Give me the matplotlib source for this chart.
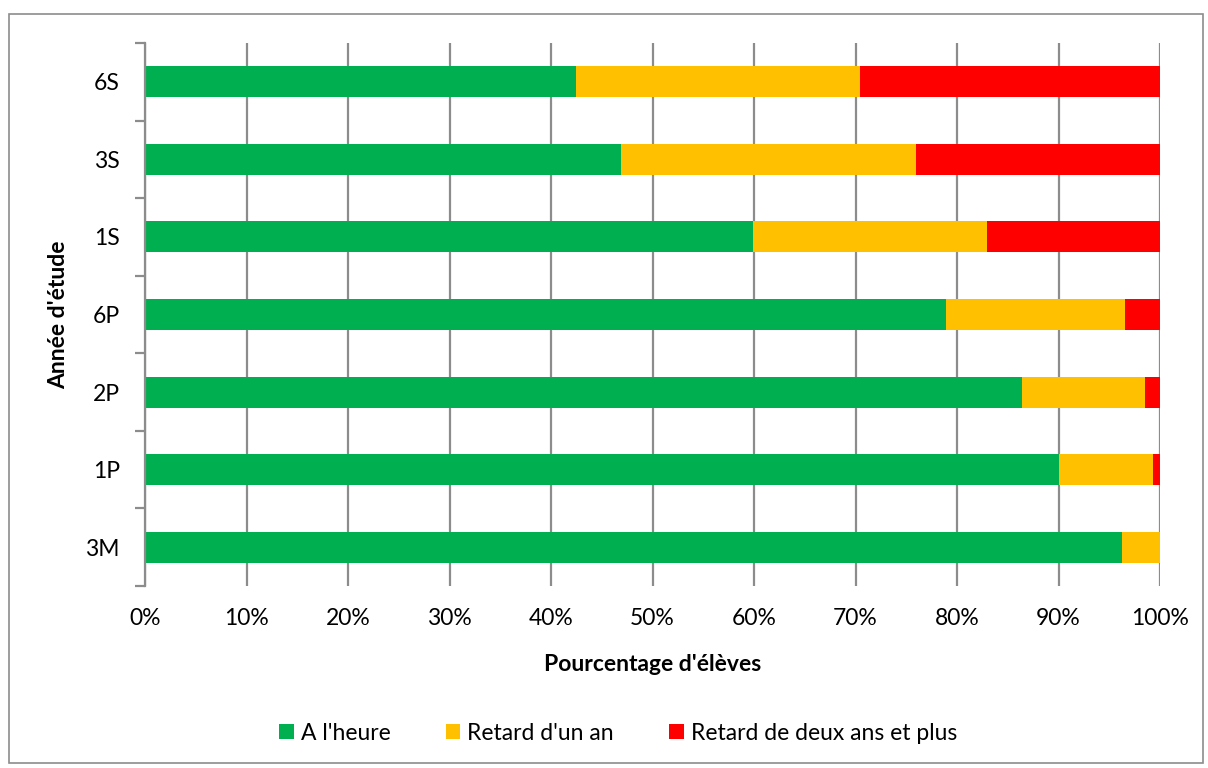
import matplotlib.pyplot as plt
from matplotlib.patches import Rectangle
from matplotlib.ticker import PercentFormatter, FixedLocator, NullFormatter

plt.rcParams['font.family'] = ['Lato', 'DejaVu Sans']

# Années d'étude (bas vers haut) et parts en %
annees = ['3M', '1P', '2P', '6P', '1S', '3S', '6S']
a_l_heure = [96.3, 90.0, 86.4, 78.9, 59.9, 46.9, 42.5]
retard_un_an = [3.7, 9.3, 12.1, 17.7, 23.1, 29.1, 27.9]
retard_deux_ans = [0.0, 0.7, 1.5, 3.4, 17.0, 24.0, 29.6]

series = [
    ("A l'heure", a_l_heure, '#00B050'),
    ("Retard d'un an", retard_un_an, '#FFC000'),
    ('Retard de deux ans et plus', retard_deux_ans, '#FF0000'),
]

fig = plt.figure(figsize=(12.08, 7.68), dpi=100)
ax = fig.add_axes([145 / 1208, 1 - 586 / 768, (1160 - 145) / 1208, (586 - 43) / 768])

# cadre extérieur du graphique
fig.patches.append(Rectangle((9 / 1208, 1 - 763 / 768), 1194 / 1208, 749 / 768,
                             transform=fig.transFigure, fill=False,
                             edgecolor='#8c8c8c', linewidth=1.2))

y = range(len(annees))
left = [0.0] * len(annees)
for label, vals, color in series:
    ax.barh(y, vals, left=left, height=0.4, color=color, label=label, zorder=3)
    left = [l + v for l, v in zip(left, vals)]

ax.set_xlim(0, 100)
ax.set_ylim(-0.5, len(annees) - 0.5)
ax.set_xticks(range(0, 101, 10))
ax.xaxis.set_major_formatter(PercentFormatter(decimals=0))
ax.tick_params(axis='x', length=0, labelsize=16.5, colors='black', pad=16)
ax.grid(axis='x', color='#8c8c8c', linewidth=1.6, zorder=0)

# étiquettes centrées, graduations entre catégories
ax.yaxis.set_major_locator(FixedLocator([i - 0.5 for i in range(len(annees) + 1)]))
ax.yaxis.set_major_formatter(NullFormatter())
ax.yaxis.set_minor_locator(FixedLocator(list(y)))
ax.set_yticklabels(annees, minor=True)
ax.tick_params(axis='y', which='major', length=7, width=1.6, color='#8c8c8c', direction='out')
ax.tick_params(axis='y', which='minor', length=0, labelsize=16.5, pad=18)

for s in ['top', 'right', 'bottom']:
    ax.spines[s].set_visible(False)
ax.spines['left'].set_color('#8c8c8c')
ax.spines['left'].set_linewidth(1.6)
ax.spines['left'].set_zorder(4)

ax.set_xlabel("Pourcentage d'élèves", fontsize=16.5, fontweight='bold', labelpad=18)
ax.set_ylabel("Année d'étude", fontsize=16.5, fontweight='bold', labelpad=12)

fig.legend(loc='center', bbox_to_anchor=(618 / 1208, 1 - 733 / 768), ncol=3,
           frameon=False, fontsize=16.5, handlelength=0.65, handleheight=0.65,
           handletextpad=0.3, columnspacing=2.4)

fig.savefig('out.png', dpi=100)
